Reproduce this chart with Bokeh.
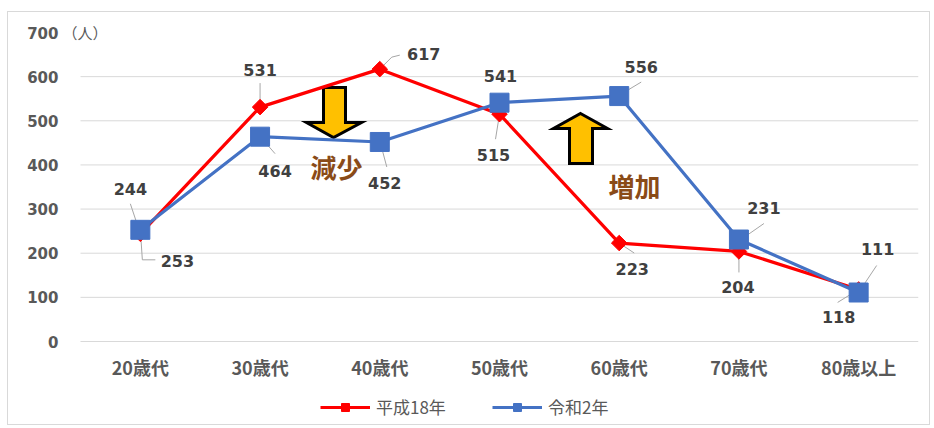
import math
from bokeh.plotting import figure
from bokeh.models import (Range1d, FixedTicker, Legend, LegendItem,
                          LabelSet, ColumnDataSource, Label)
from bokeh.core.properties import value
from bokeh.embed import file_html
from bokeh.resources import INLINE

# ---------------- data ----------------
categories = ["20歳代", "30歳代", "40歳代", "50歳代", "60歳代", "70歳代", "80歳以上"]
h18 = [244, 531, 617, 515, 223, 204, 118]      # 平成18年
r2 = [253, 464, 452, 541, 556, 231, 111]       # 令和2年
series_names = ["平成18年", "令和2年"]
yticks = [0, 100, 200, 300, 400, 500, 600, 700]
grid_ticks = [0, 100, 200, 300, 400, 500, 600]
y_unit = "（人）"
note_down = "減少"
note_up = "増加"

# ---------------- layout / style ----------------
OX, OY = 7, 11                 # page position of the chart box (its border)
BW = 1                         # border width
W, H = 923, 414
CX, CY = OX + BW, OY + BW      # page position of the canvas
# intended pixel geometry (page pixels)
AX_L, AX_R = 80, 918          # x-extent of the category band
Y0_PX, Y700_PX = 341, 32      # pixel rows of 0 and 700
FRAME_L, FRAME_R, FRAME_T, FRAME_B = 62, 918, 14, 421
UX = (AX_R - AX_L) / len(categories)
UY = (Y0_PX - Y700_PX) / 700.0
xs = [i + 0.5 for i in range(len(categories))]

def dx(px):  # page pixel x -> data x
    return (px - AX_L) / UX

def dy(py):  # page pixel y -> data y
    return (Y0_PX - py) / UY

RED = "#FF0000"
BLUE = "#4472C4"
GRAY_TXT = "#595959"
LBL_TXT = "#404040"
LEADER = "#a6a6a6"
GRID = "#d9d9d9"
CJK = "Noto Sans CJK JP"
NUM = "DejaVu Sans"

# label offsets (px, right/up) and leader polylines (px relative to point)
red_off = [(-10, 45), (0, 37), (44, 15), (-6, -41), (13, -26), (-1, -36), (-20, -28)]
blue_off = [(37, -31), (15, -34), (5, -41), (1, 27), (22, 29), (25, 32), (19, 44)]
red_lead = [[(0, 0), (-10, 30)], [(0, 3), (0, 24)], [(0, 0), (12, 12), (20, 14)],
            [(0, 0), (-4, -25)], [(0, 0), (15, -10)], [(0, 0), (0, -21)],
            [(0, 0), (-21, -13)]]
blue_lead = [[(0, 0), (2, -30), (15, -30)], [(2, -2), (15, -17)], [(3, -10), (7, -25)],
             None, [(2, 2), (22, 14)], [(2, 0), (25, 16)], [(0, 0), (18, 27)]]

p = figure(x_range=Range1d(dx(FRAME_L), dx(FRAME_R)),
           y_range=Range1d(dy(FRAME_B), dy(FRAME_T)),
           width=W, height=H, output_backend="svg", toolbar_location=None,
           min_border_left=FRAME_L - CX, min_border_right=CX + W - FRAME_R,
           min_border_top=FRAME_T - CY, min_border_bottom=CY + H - FRAME_B)
p.outline_line_color = None
p.background_fill_color = "white"
p.border_fill_color = "white"
p.xgrid.visible = False
p.ygrid.visible = False
p.xaxis.visible = False

p.yaxis.ticker = FixedTicker(ticks=yticks)
p.yaxis.axis_line_color = None
p.yaxis.major_tick_line_color = None
p.yaxis.minor_tick_line_color = None
p.yaxis.major_tick_out = 0
p.yaxis.major_label_standoff = 4
p.yaxis.major_label_text_font = NUM
p.yaxis.major_label_text_font_style = "bold"
p.yaxis.major_label_text_font_size = "15px"
p.yaxis.major_label_text_color = GRAY_TXT

# horizontal grid lines across the category band
n = len(categories)
p.segment(x0=[0] * len(grid_ticks), x1=[n] * len(grid_ticks), y0=grid_ticks,
          y1=grid_ticks, line_color=GRID, line_width=1)

# category labels
p.text(x=xs, y=[dy(Y0_PX + 25)] * n, text=categories, text_align="center",
       text_baseline="middle", text_font=value(CJK), text_font_style="bold",
       text_font_size="18px", text_color=GRAY_TXT)

# leader lines
lx, ly = [], []
for vals, leads in ((h18, red_lead), (r2, blue_lead)):
    for i, (v, ld) in enumerate(zip(vals, leads)):
        if ld is None:
            continue
        lx.append([xs[i] + a / UX for a, b in ld])
        ly.append([v + b / UY for a, b in ld])
p.multi_line(lx, ly, line_color=LEADER, line_width=1)

# arrows
down_px = [(323, 87), (345, 87), (345, 122), (361, 122), (333, 137), (306, 122), (323, 122)]
up_px = [(580, 113), (607, 128), (592, 128), (592, 163), (569, 163), (569, 128), (553, 128)]
for poly in (down_px, up_px):
    p.patch([dx(a) for a, b in poly], [dy(b) for a, b in poly],
            fill_color="#FFC000", line_color="black", line_width=3, line_join="miter")

# series
src_r = ColumnDataSource(dict(x=xs, y=h18))
src_b = ColumnDataSource(dict(x=xs, y=r2))
rl = p.line("x", "y", source=src_r, line_color=RED, line_width=3.2)
rm = p.scatter("x", "y", source=src_r, marker="square", angle=math.pi / 4, size=11,
               fill_color=RED, line_color=RED)
bl = p.line("x", "y", source=src_b, line_color=BLUE, line_width=3.2)
bm = p.scatter("x", "y", source=src_b, marker="square", size=19,
               fill_color=BLUE, line_color=BLUE)

# data labels
for vals, offs in ((h18, red_off), (r2, blue_off)):
    s = ColumnDataSource(dict(x=xs, y=vals, t=[str(v) for v in vals],
                              xo=[o[0] for o in offs], yo=[o[1] for o in offs]))
    p.add_layout(LabelSet(x="x", y="y", text="t", source=s, x_offset="xo", y_offset="yo",
                          text_align="center", text_baseline="middle",
                          text_font=value(NUM), text_font_style="bold",
                          text_font_size="16px", text_color=LBL_TXT))

# notes
for txt, cx, cy in ((note_down, 336, 166), (note_up, 634, 185)):
    p.add_layout(Label(x=dx(cx), y=dy(cy), text=txt, text_align="center",
                       text_baseline="middle", text_font=CJK, text_font_style="bold",
                       text_font_size="26px", text_color="#8A4B17"))
p.add_layout(Label(x=dx(62), y=700, text=y_unit, text_align="left",
                   text_baseline="middle", text_font=CJK, text_font_size="15px",
                   text_color=GRAY_TXT))

legend = Legend(items=[LegendItem(label=series_names[0], renderers=[rl, rm]),
                       LegendItem(label=series_names[1], renderers=[bl, bm])],
                orientation="horizontal", location=(320 - FRAME_L, FRAME_B - 419))
legend.border_line_color = None
legend.background_fill_alpha = 0
legend.label_text_font = CJK
legend.label_text_font_size = "17px"
legend.label_text_color = GRAY_TXT
legend.glyph_width = 50
legend.glyph_height = 20
legend.spacing = 22
legend.label_standoff = 6
legend.label_width = 94
legend.margin = 0
legend.padding = 2
p.add_layout(legend, "center")

p.styles = {"margin-left": f"{OX}px", "margin-top": f"{OY}px",
            "border": f"{BW}px solid #d9d9d9", "box-sizing": "border-box"}

open("out.html", "w").write(file_html(p, INLINE))
